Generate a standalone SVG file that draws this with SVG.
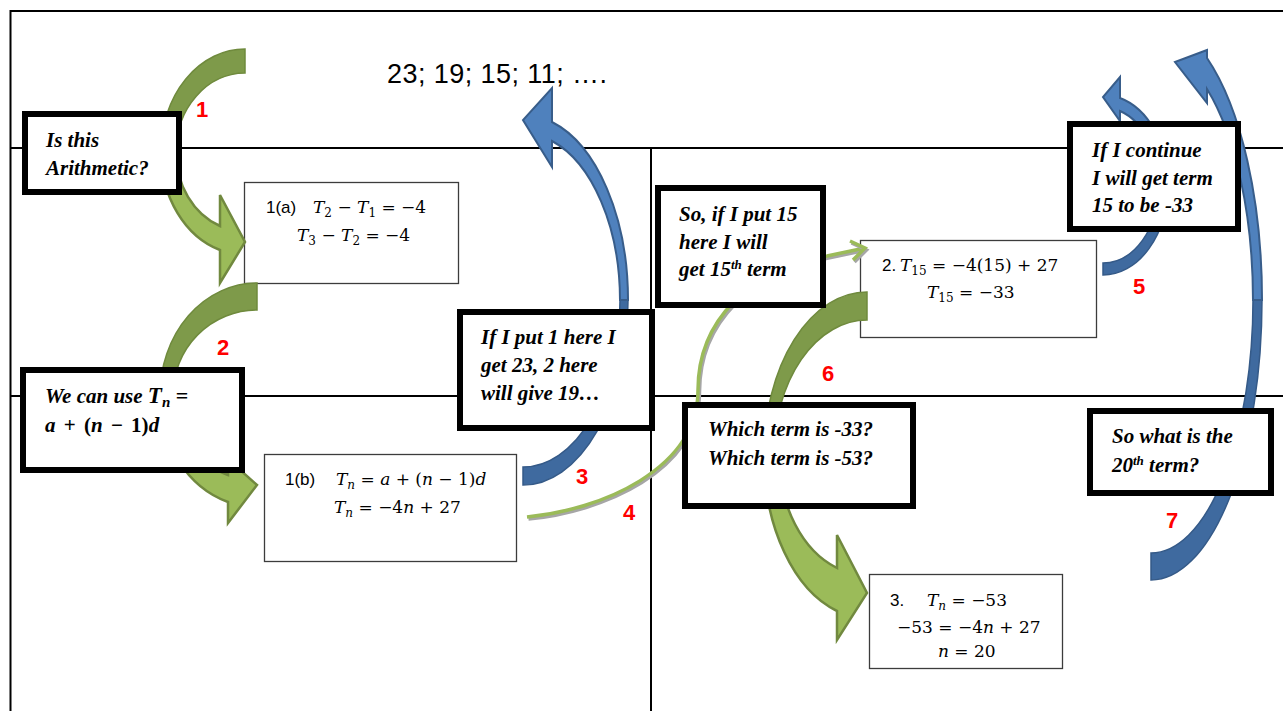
<svg xmlns="http://www.w3.org/2000/svg" width="1283" height="711" viewBox="0 0 1283 711">
  <defs>
    <style>
      .grid { stroke: #000; stroke-width: 2; fill: none; }
      .tbox { fill: #fff; stroke: #000; stroke-width: 6; }
      .mbox { fill: #fff; stroke: #3c3c3c; stroke-width: 1.3; }
      .bt { font-family: "Liberation Serif", "Times New Roman", serif; font-weight: bold; font-style: italic; font-size: 21px; fill: #000; }
      .lbl { font-family: "Liberation Sans", Arial, sans-serif; font-size: 17px; fill: #000; }
      .m { font-family: "DejaVu Serif", "Liberation Serif", serif; font-size: 17px; fill: #000; }
      .v { font-style: italic; }
      .up { font-style: normal; }
      .sub { font-size: 12px; }
      .num { font-family: "Liberation Sans", Arial, sans-serif; font-weight: bold; font-size: 22px; fill: #ff0000; }
      .gback { fill: #7e9a4a; stroke: #6f8a3d; stroke-width: 1.5; }
      .gfront { fill: #9bbb59; stroke: #71893f; stroke-width: 2.5; }
      .bback { fill: #3f6a9f; stroke: #355a88; stroke-width: 1.5; }
      .bfront { fill: #4f81bd; stroke: #385d8a; stroke-width: 2; }
      .link { fill: none; stroke: #9bbb59; stroke-width: 3.5; }
      .linkShadow { fill: none; stroke: #a6a6a6; stroke-width: 3.5; }
    </style>
  </defs>

  <!-- page grid -->
  <g id="grid">
    <path class="grid" d="M10.5,10 V711"/>
    <path class="grid" d="M10,11 H1283"/>
    <path class="grid" d="M10,148 H1283"/>
    <path class="grid" d="M10,396 H1283"/>
    <path class="grid" d="M651,148 V711"/>
  </g>

  <text x="387" y="83" font-family="Liberation Sans, Arial, sans-serif" font-size="27" textLength="220" fill="#000">23; 19; 15; 11; ….</text>

  <!-- working boxes -->
  <g id="work-1a">
    <rect class="mbox" x="244.5" y="182.5" width="214" height="101"/>
    <text class="lbl" x="266" y="213">1(a)</text>
    <text class="m" x="313" y="213"><tspan class="v">T</tspan><tspan class="sub" dy="4">2</tspan><tspan dy="-4"> − </tspan><tspan class="v">T</tspan><tspan class="sub" dy="4">1</tspan><tspan dy="-4"> = −4</tspan></text>
    <text class="m" x="297" y="241"><tspan class="v">T</tspan><tspan class="sub" dy="4">3</tspan><tspan dy="-4"> − </tspan><tspan class="v">T</tspan><tspan class="sub" dy="4">2</tspan><tspan dy="-4">  = −4</tspan></text>
  </g>

  <g id="work-1b">
    <rect class="mbox" x="264.5" y="454.5" width="252" height="107"/>
    <text class="lbl" x="285" y="485">1(b)</text>
    <text class="m" x="336" y="485"><tspan class="v">T</tspan><tspan class="sub v" dy="4">n</tspan><tspan dy="-4"> = </tspan><tspan class="v">a</tspan> + (<tspan class="v">n</tspan> − 1)<tspan class="v">d</tspan></text>
    <text class="m" x="334" y="513"><tspan class="v">T</tspan><tspan class="sub v" dy="4">n</tspan><tspan dy="-4"> = −4</tspan><tspan class="v">n</tspan> + 27</text>
  </g>

  <g id="work-2">
    <rect class="mbox" x="860.5" y="240.5" width="236" height="97"/>
    <text class="lbl" x="882" y="271" font-size="16">2.</text>
    <text class="m" x="900" y="271"><tspan class="v">T</tspan><tspan class="sub" dy="4">15</tspan><tspan dy="-4"> = −4(15) + 27</tspan></text>
    <text class="m" x="927" y="298"><tspan class="v">T</tspan><tspan class="sub" dy="4">15</tspan><tspan dy="-4"> = −33</tspan></text>
  </g>

  <g id="work-3">
    <rect class="mbox" x="869.5" y="574.5" width="193" height="94"/>
    <text class="lbl" x="890" y="606">3.</text>
    <text class="m" x="927" y="606"><tspan class="v">T</tspan><tspan class="sub v" dy="4">n</tspan><tspan dy="-4"> = −53</tspan></text>
    <text class="m" x="897" y="633">−53 = −4<tspan class="v">n</tspan> + 27</text>
    <text class="m" x="938" y="657"><tspan class="v">n</tspan> = 20</text>
  </g>

  <!-- connectors -->
  <g id="connectors">
    <!-- 1: green curved arrow -->
    <path class="gback" d="M245,49 A84,103 0 0 0 161,152 L176,152 A69,79 0 0 1 245,73 Z"/>
    <path class="gfront" d="M161,152 A84,103 0 0 0 220,250 L220,283 L245,242 L220,195 L220,226 A69,79 0 0 1 176,152 Z"/>

    <!-- 2: green curved arrow -->
    <path class="gback" d="M257,283 A97,112 0 0 0 160,395 L173,395 A84,85 0 0 1 257,310 Z"/>
    <path class="gfront" d="M160,395 A97,112 0 0 0 228,502 L228,523 L257,485 L228,459 L228,475 A84,85 0 0 1 173,395 Z"/>

    <!-- 3: blue curved arrow up to the sequence -->
    <path class="bback" d="M523,485 A105,185 0 0 0 628,300 L620,300 A97,167 0 0 1 523,467 Z"/>
    <path class="bfront" d="M628,300 A105,185 0 0 0 552,122 L552,88 L523,120 L552,167 L552,141 A97,167 0 0 1 620,300 Z"/>

    <!-- 4: thin green link -->
    <path class="linkShadow" transform="translate(1.5,2)" d="M527,517 C600,510 698,470 698,390 C698,320 750,270 827,256 L865,248"/>
    <path class="link" d="M527,517 C600,510 698,470 698,390 C698,320 750,270 827,256 L865,248"/>
    <path class="linkShadow" transform="translate(1.5,2)" d="M850,241 L865,248 L853,260"/>
    <path class="link" d="M850,241 L865,248 L853,260"/>

    <!-- 5: small blue curved arrow -->
    <path class="bback" d="M1103,275 A65,90 0 0 0 1168,185 L1159,185 A56,78 0 0 1 1103,263 Z"/>
    <path class="bfront" d="M1168,185 A65,90 0 0 0 1120,98 L1120,77 L1103,97 L1120,121 L1120,111 A56,78 0 0 1 1159,185 Z"/>

    <!-- 6: green curved arrow -->
    <path class="gback" d="M867,292 A103,163 0 0 0 764,455 L774,455 A93,135 0 0 1 867,320 Z"/>
    <path class="gfront" d="M764,455 A103,163 0 0 0 837,611 L837,640 L867,593 L837,535 L837,568 A88,120 0 0 1 779,455 Z"/>

    <!-- 7: large blue curved arrow -->
    <path class="bback" d="M1151,580 A111,280 0 0 0 1262,300 L1253,300 A102,253 0 0 1 1151,553 Z"/>
    <path class="bfront" d="M1262,300 A111,280 0 0 0 1207,58 L1207,50 L1175,62 L1207,103 L1207,89 A102,253 0 0 1 1253,300 Z"/>
  </g>

  <!-- step numbers -->
  <g id="step-numbers">
    <text class="num" x="196" y="117">1</text>
    <text class="num" x="217" y="355">2</text>
    <text class="num" x="576" y="484">3</text>
    <text class="num" x="623" y="520" font-weight="normal">4</text>
    <text class="num" x="1133" y="294">5</text>
    <text class="num" x="822" y="381">6</text>
    <text class="num" x="1166" y="528">7</text>
  </g>

  <!-- question / thought boxes -->
  <g id="q-arithmetic">
    <rect class="tbox" x="25" y="114" width="154" height="78"/>
    <text class="bt" x="46" y="147">Is this</text>
    <text class="bt" x="46" y="175">Arithmetic?</text>
  </g>

  <g id="q-formula">
    <rect class="tbox" x="23" y="370" width="219" height="100"/>
    <text class="bt" x="45" y="403">We can use <tspan font-size="23">T</tspan><tspan dy="4" font-size="15">n</tspan><tspan class="up" dy="-4" font-size="22"> =</tspan></text>
    <text class="bt" x="45" y="432" font-size="22" word-spacing="3"><tspan class="v">a</tspan><tspan class="up"> + (</tspan><tspan class="v">n</tspan><tspan class="up"> − 1)</tspan><tspan class="v">d</tspan></text>
  </g>

  <g id="q-put-one">
    <rect class="tbox" x="460" y="312" width="192" height="116"/>
    <text class="bt" x="481" y="344">If I put 1 here I</text>
    <text class="bt" x="481" y="372">get 23, 2 here</text>
    <text class="bt" x="481" y="400">will give 19…</text>
  </g>

  <g id="q-put-fifteen">
    <rect class="tbox" x="658" y="188" width="165" height="117"/>
    <text class="bt" x="679" y="221">So, if I put 15</text>
    <text class="bt" x="679" y="248.5">here I will</text>
    <text class="bt" x="679" y="276">get 15<tspan dy="-7" font-size="13">th</tspan><tspan dy="7"> term</tspan></text>
  </g>

  <g id="q-continue">
    <rect class="tbox" x="1070" y="124" width="168" height="105"/>
    <text class="bt" x="1092" y="157">If I continue</text>
    <text class="bt" x="1092" y="185">I will get term</text>
    <text class="bt" x="1092" y="212">15 to be -33</text>
  </g>

  <g id="q-which-term">
    <rect class="tbox" x="685" y="405" width="228" height="101"/>
    <text class="bt" x="708" y="436">Which term is -33?</text>
    <text class="bt" x="708" y="465">Which term is -53?</text>
  </g>

  <g id="q-twentieth">
    <rect class="tbox" x="1090" y="411" width="181" height="82"/>
    <text class="bt" x="1112" y="443">So what is the</text>
    <text class="bt" x="1112" y="472">20<tspan dy="-7" font-size="13">th</tspan><tspan dy="7"> term?</tspan></text>
  </g>
</svg>
